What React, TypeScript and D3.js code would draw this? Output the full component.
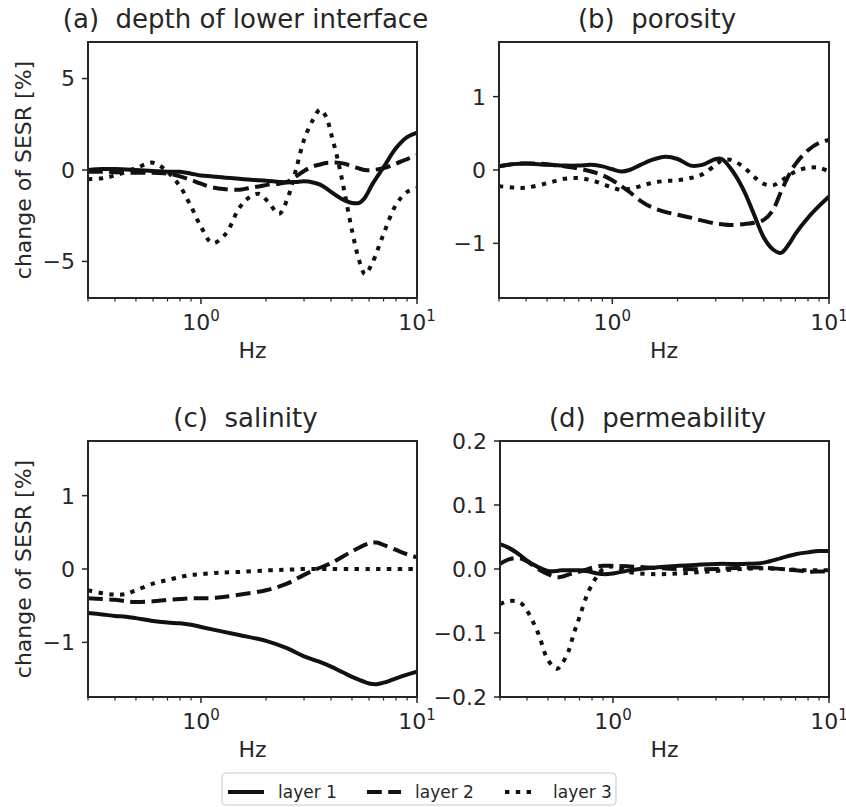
import React from 'react';
import * as d3 from 'd3';

// ---------- data ----------
const freqA = [0.3, 0.35, 0.4, 0.5, 0.6, 0.7, 0.8, 0.9, 1.0, 1.13, 1.3, 1.5, 1.65, 1.85, 2.05, 2.3, 2.5, 2.75, 3.0, 3.3, 3.56, 3.8, 4.0, 4.3, 4.6, 5.0, 5.4, 5.75, 6.2, 7.0, 8.0, 9.0, 10];
const depthLayer1 = [0.0, 0.05, 0.05, 0.0, -0.05, -0.1, -0.1, -0.2, -0.3, -0.35, -0.42, -0.48, -0.52, -0.56, -0.6, -0.65, -0.68, -0.65, -0.62, -0.68, -0.8, -1.0, -1.2, -1.45, -1.65, -1.8, -1.8, -1.5, -0.8, 0.15, 1.2, 1.8, 2.05];
const depthLayer2 = [-0.1, -0.1, -0.12, -0.15, -0.15, -0.2, -0.35, -0.55, -0.75, -0.95, -1.05, -1.08, -1.0, -0.9, -0.8, -0.75, -0.65, -0.35, -0.05, 0.2, 0.3, 0.38, 0.4, 0.4, 0.35, 0.2, 0.08, 0.0, 0.0, 0.1, 0.35, 0.6, 0.8];
const depthLayer3 = [-0.5, -0.45, -0.3, 0.1, 0.4, -0.1, -0.9, -2.0, -3.1, -4.0, -3.5, -2.1, -1.55, -1.3, -1.75, -2.4, -1.65, 0.0, 1.65, 2.75, 3.3, 2.9, 2.0, 0.55, -1.1, -3.3, -4.95, -5.7, -5.1, -3.5, -1.9, -1.2, -1.0];

const freqB = [0.3, 0.35, 0.4, 0.5, 0.6, 0.7, 0.8, 0.9, 1.0, 1.1, 1.2, 1.35, 1.5, 1.75, 2.0, 2.3, 2.6, 3.0, 3.2, 3.5, 4.0, 4.5, 5.0, 5.5, 6.0, 6.5, 7.0, 8.0, 9.0, 10];
const porosityLayer1 = [0.05, 0.08, 0.09, 0.07, 0.06, 0.06, 0.07, 0.05, 0.01, -0.02, 0.0, 0.07, 0.13, 0.18, 0.15, 0.06, 0.07, 0.15, 0.15, 0.03, -0.25, -0.6, -0.92, -1.08, -1.13, -1.02, -0.87, -0.65, -0.49, -0.36];
const porosityLayer2 = [0.05, 0.08, 0.09, 0.08, 0.05, 0.02, -0.02, -0.07, -0.14, -0.22, -0.3, -0.42, -0.5, -0.57, -0.61, -0.65, -0.69, -0.73, -0.74, -0.75, -0.74, -0.72, -0.68, -0.55, -0.3, -0.08, 0.08, 0.27, 0.37, 0.41];
const porosityLayer3 = [-0.22, -0.24, -0.24, -0.18, -0.12, -0.11, -0.14, -0.19, -0.24, -0.27, -0.26, -0.22, -0.18, -0.15, -0.14, -0.11, -0.06, 0.07, 0.13, 0.14, 0.05, -0.09, -0.19, -0.21, -0.15, -0.08, -0.02, 0.03, 0.03, -0.02];

const freqC = [0.3, 0.35, 0.4, 0.45, 0.5, 0.6, 0.7, 0.8, 0.9, 1.0, 1.2, 1.5, 2.0, 2.5, 3.0, 3.5, 4.0, 5.0, 6.0, 6.5, 7.0, 8.0, 9.0, 10];
const salinityLayer1 = [-0.6, -0.62, -0.64, -0.65, -0.67, -0.71, -0.73, -0.74, -0.76, -0.79, -0.84, -0.9, -0.98, -1.08, -1.19, -1.26, -1.33, -1.47, -1.56, -1.57, -1.55, -1.49, -1.44, -1.4];
const salinityLayer2 = [-0.4, -0.41, -0.42, -0.44, -0.45, -0.44, -0.42, -0.41, -0.4, -0.4, -0.39, -0.35, -0.29, -0.2, -0.08, 0.01, 0.08, 0.24, 0.35, 0.36, 0.33, 0.26, 0.2, 0.16];
const salinityLayer3 = [-0.29, -0.33, -0.35, -0.34, -0.29, -0.2, -0.15, -0.11, -0.08, -0.07, -0.05, -0.04, -0.02, -0.01, 0, 0, 0, 0, 0, 0, 0, 0, 0, 0];

const freqD = [0.3, 0.33, 0.37, 0.4, 0.45, 0.5, 0.55, 0.58, 0.62, 0.66, 0.7, 0.75, 0.8, 0.85, 0.9, 1.0, 1.2, 1.5, 2.0, 3.0, 4.0, 5.0, 6.0, 7.0, 8.0, 9.0, 10];
const permeabilityLayer1 = [0.039, 0.033, 0.022, 0.013, 0.003, -0.003, -0.003, -0.002, -0.002, -0.002, -0.002, -0.003, -0.005, -0.007, -0.008, -0.007, -0.002, 0.002, 0.005, 0.008, 0.008, 0.01, 0.017, 0.023, 0.026, 0.028, 0.028];
const permeabilityLayer2 = [0.008, 0.015, 0.017, 0.012, 0.0, -0.008, -0.013, -0.012, -0.009, -0.006, -0.004, -0.001, 0.002, 0.004, 0.005, 0.005, 0.004, 0.002, 0.0, 0.0, 0.002, 0.002, 0.0, -0.002, -0.004, -0.004, -0.004];
const permeabilityLayer3 = [-0.055, -0.05, -0.052, -0.065, -0.1, -0.142, -0.156, -0.148, -0.13, -0.1, -0.075, -0.045, -0.024, -0.01, 0.0, 0.004, -0.005, -0.008, -0.007, -0.003, 0.0, 0.001, 0.0, -0.001, -0.002, -0.002, -0.002];

const panelLetters = ['(a)', '(b)', '(c)', '(d)'];
const panelNames = ['depth of lower interface', 'porosity', 'salinity', 'permeability'];
const layerNames = ['layer 1', 'layer 2', 'layer 3'];
const yTicksA = [-5, 0, 5];
const yTicksB = [-1, 0, 1];
const yTicksC = [-1, 0, 1];
const yTicksD = [-0.2, -0.1, 0.0, 0.1, 0.2];
const xDomain = [0.3, 10];
const xMajor = [1, 10];
const xMinor = [0.3, 0.4, 0.5, 0.6, 0.7, 0.8, 0.9, 2, 3, 4, 5, 6, 7, 8, 9];
const xLabel = 'Hz';
const yLabel = 'change of SESR [%]';

// ---------- layout / style ----------
const FONT = "'DejaVu Sans', sans-serif";
const INK = '#262626';
const LINE = '#111111';
const LW = 4;
const dashes = [null, `${3.7 * LW},${1.6 * LW}`, `${1.1 * LW},${1.6 * LW}`];

const panels = [
  { x0: 88, x1: 417, y0: 42, y1: 298, yDomain: [-7, 7], yTicks: yTicksA, fmt: (v: number) => d3.format('d')(v), freq: freqA, series: [depthLayer1, depthLayer2, depthLayer3], ylab: true },
  { x0: 499, x1: 829, y0: 42, y1: 298, yDomain: [-1.745, 1.745], yTicks: yTicksB, fmt: (v: number) => d3.format('d')(v), freq: freqB, series: [porosityLayer1, porosityLayer2, porosityLayer3], ylab: false },
  { x0: 88, x1: 417, y0: 441, y1: 697, yDomain: [-1.745, 1.745], yTicks: yTicksC, fmt: (v: number) => d3.format('d')(v), freq: freqC, series: [salinityLayer1, salinityLayer2, salinityLayer3], ylab: true },
  { x0: 500, x1: 829, y0: 441, y1: 697, yDomain: [-0.2, 0.2], yTicks: yTicksD, fmt: (v: number) => d3.format('.1f')(v), freq: freqD, series: [permeabilityLayer1, permeabilityLayer2, permeabilityLayer3], ylab: false },
];

function Panel({ p, i }: { p: any; i: number }) {
  const xs = d3.scaleLog().domain(xDomain).range([p.x0, p.x1]);
  const ys = d3.scaleLinear().domain(p.yDomain).range([p.y1, p.y0]);
  const line = d3
    .line<[number, number]>()
    .x((d) => xs(d[0]))
    .y((d) => ys(d[1]))
    .curve(d3.curveCatmullRom.alpha(0.5));
  const clipId = `clip${i}`;
  const cx = (p.x0 + p.x1) / 2;
  const cy = (p.y0 + p.y1) / 2;
  return (
    <g>
      <clipPath id={clipId}>
        <rect x={p.x0} y={p.y0} width={p.x1 - p.x0} height={p.y1 - p.y0} />
      </clipPath>
      <g clipPath={`url(#${clipId})`}>
        {p.series.map((s: number[], k: number) => (
          <path
            key={k}
            d={line(p.freq.map((f: number, j: number) => [f, s[j]]) as [number, number][]) || ''}
            fill="none"
            stroke={LINE}
            strokeWidth={LW}
            strokeDasharray={dashes[k] || undefined}
          />
        ))}
      </g>
      <rect x={p.x0} y={p.y0} width={p.x1 - p.x0} height={p.y1 - p.y0} fill="none" stroke={INK} strokeWidth={2} />
      {/* y ticks */}
      {p.yTicks.map((t: number) => (
        <g key={t}>
          <line x1={p.x0 - 6} x2={p.x0} y1={ys(t)} y2={ys(t)} stroke={INK} strokeWidth={1.5} />
          <text x={p.x0 - 13} y={ys(t)} dy="0.36em" textAnchor="end" fontSize={22} fill={INK} fontFamily={FONT}>
            {p.fmt(t).replace('-', '\u2212')}
          </text>
        </g>
      ))}
      {/* x ticks */}
      {xMinor.map((t) => (
        <line key={'m' + t} x1={xs(t)} x2={xs(t)} y1={p.y1} y2={p.y1 + 3.5} stroke={INK} strokeWidth={1.2} />
      ))}
      {xMajor.map((t, k) => (
        <g key={'M' + t}>
          <line x1={xs(t)} x2={xs(t)} y1={p.y1} y2={p.y1 + 6} stroke={INK} strokeWidth={1.5} />
          <text x={xs(t)} y={p.y1 + 32} textAnchor="middle" fontSize={22} fill={INK} fontFamily={FONT}>
            10<tspan fontSize={15} dy={-9}>{k}</tspan>
          </text>
        </g>
      ))}
      <text x={cx} y={p.y1 + 60} textAnchor="middle" fontSize={22} fill={INK} fontFamily={FONT}>
        {xLabel}
      </text>
      {p.ylab && (
        <text transform={`translate(31,${cy}) rotate(-90)`} textAnchor="middle" fontSize={22} fill={INK} fontFamily={FONT}>
          {yLabel}
        </text>
      )}
      <text x={cx - 7} y={p.y0 - 14} textAnchor="middle" fontSize={26} fill={INK} fontFamily={FONT} style={{ whiteSpace: 'pre' }}>
        {panelLetters[i] + '\u00a0 ' + panelNames[i]}
      </text>
    </g>
  );
}

function Legend() {
  const x = 222, y = 773, w = 394, h = 32;
  const entries = [
    { lx: 228, lw: 36, tx: 278 },
    { lx: 367, lw: 34, tx: 415 },
    { lx: 505, lw: 30, tx: 553 },
  ];
  const ly = y + 19;
  return (
    <g>
      <rect x={x} y={y} width={w} height={h} rx={4} fill="white" stroke="#cccccc" strokeWidth={1.2} />
      {entries.map((e, k) => (
        <g key={k}>
          <line x1={e.lx} x2={e.lx + e.lw} y1={ly} y2={ly} stroke={LINE} strokeWidth={LW} strokeDasharray={dashes[k] || undefined} />
          <text x={e.tx} y={ly} dy="0.35em" fontSize={17} fill={INK} fontFamily={FONT}>
            {layerNames[k]}
          </text>
        </g>
      ))}
    </g>
  );
}

export default function App() {
  return (
    <div style={{ position: 'absolute', left: 0, top: 0, width: 846, height: 807, background: 'white' }}>
      <svg width={846} height={807} viewBox="0 0 846 807" style={{ display: 'block' }}>
        <rect width={846} height={807} fill="white" />
        {panels.map((p, i) => (
          <Panel key={i} p={p} i={i} />
        ))}
        <Legend />
      </svg>
    </div>
  );
}
